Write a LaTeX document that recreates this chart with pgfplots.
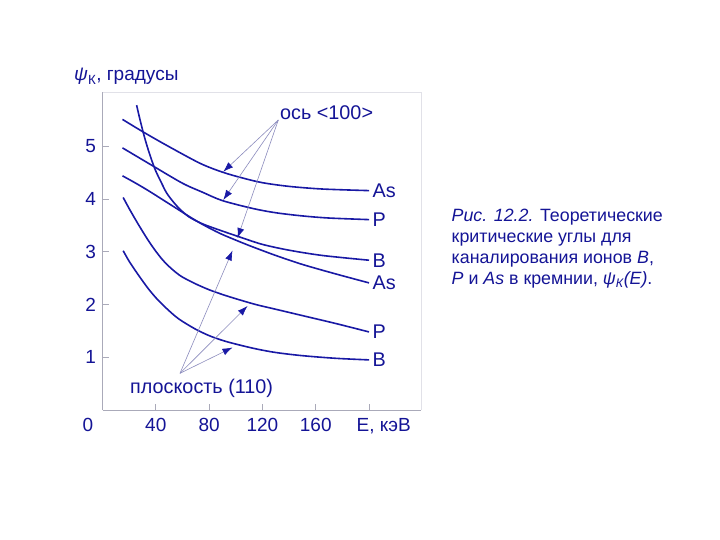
\documentclass[border=0pt]{standalone}
\usepackage{fontspec}
\setmainfont{Liberation Sans}
\usepackage{pgfplots}
\pgfplotsset{compat=1.18}
\usetikzlibrary{arrows.meta}
\definecolor{cblue}{RGB}{25,25,165}
\definecolor{tblue}{RGB}{20,20,150}
\definecolor{agray}{RGB}{140,140,190}
\definecolor{axgray}{RGB}{170,170,185}
\definecolor{frgray}{RGB}{225,225,232}
\newcommand{\lbl}{\fontsize{19bp}{22bp}\selectfont}
\newcommand{\alb}{\fontsize{19.8bp}{22bp}\selectfont}
\newcommand{\capfont}{\fontsize{17.8bp}{21bp}\selectfont}
\begin{document}
\begin{tikzpicture}[x=1bp,y=1bp]
\path[use as bounding box, fill=white] (0,0) rectangle (720,540);
\begin{axis}[
  at={(102.5bp,130bp)}, anchor=south west,
  scale only axis, width=318.5bp, height=318bp,
  xmin=0, xmax=239, ymin=0, ymax=6.03,
  axis x line*=bottom, axis y line*=left,
  axis line style={-, draw=axgray, line width=0.8bp},
  xtick={40,80,120,160,200}, xticklabels={40,80,120,160,{}},
  ytick={1,2,3,4,5}, yticklabels={1,2,3,4,5},
  tick align=inside, major tick length=6bp,
  tick style={draw=axgray, line width=0.8bp},
  xticklabel style={font=\lbl, text=tblue, anchor=base, yshift=-21.7bp},
  yticklabel style={font=\lbl, text=tblue, anchor=east, xshift=-3bp},
  /pgf/number format/assume math mode=true,
  clip=false,
]
\draw[frgray, line width=0.8bp] (rel axis cs:0,1) -- (rel axis cs:1,1) -- (rel axis cs:1,0);
% axis <100> As
\addplot[cblue, line width=1.6bp, smooth] coordinates {
 (15,5.51) (30,5.28) (48,5.02) (73,4.68) (90,4.51) (105,4.40) (120,4.31) (140,4.24) (165,4.19) (200,4.16)};
% axis <100> P
\addplot[cblue, line width=1.6bp, smooth] coordinates {
 (15,4.97) (37,4.64) (60,4.30) (75,4.13) (90,3.97) (113,3.82) (130,3.74) (150,3.68) (170,3.64) (200,3.61)};
% axis <100> B
\addplot[cblue, line width=1.6bp, smooth] coordinates {
 (25.6,5.78) (28,5.52) (31,5.22) (34,4.96) (37,4.73) (40,4.53) (44,4.32) (48,4.12) (53,3.95) (58,3.81) (65,3.66) (75,3.53) (88,3.41) (103,3.28) (120,3.14) (140,3.03) (165,2.93) (200,2.84)};
% plane (110) As
\addplot[cblue, line width=1.6bp, smooth] coordinates {
 (15,4.44) (25,4.30) (35,4.15) (45,3.99) (55,3.83) (65,3.67) (75,3.52) (88,3.35) (103,3.19) (113,3.09) (130,2.93) (150,2.76) (175,2.58) (200,2.41)};
% plane (110) P
\addplot[cblue, line width=1.6bp, smooth] coordinates {
 (15.5,4.03) (20,3.82) (25,3.60) (30,3.39) (35,3.19) (40,3.01) (45,2.85) (50,2.72) (55,2.61) (60,2.52) (70,2.39) (80,2.28) (90,2.19) (100,2.11) (115,2.00) (130,1.91) (150,1.79) (175,1.64) (200,1.48)};
% plane (110) B
\addplot[cblue, line width=1.6bp, smooth] coordinates {
 (15.5,3.02) (20,2.82) (25,2.63) (30,2.45) (35,2.28) (40,2.13) (45,2.00) (50,1.88) (55,1.77) (60,1.68) (70,1.53) (80,1.41) (90,1.32) (100,1.25) (115,1.16) (130,1.09) (150,1.03) (175,0.98) (200,0.95)};
\node[anchor=west, text=tblue, font=\alb] at (axis cs:200,4.16) {As};
\node[anchor=west, text=tblue, font=\alb] at (axis cs:200,3.61) {P};
\node[anchor=west, text=tblue, font=\alb] at (axis cs:200,2.84) {B};
\node[anchor=west, text=tblue, font=\alb] at (axis cs:200,2.41) {As};
\node[anchor=west, text=tblue, font=\alb] at (axis cs:200,1.48) {P};
\node[anchor=west, text=tblue, font=\alb] at (axis cs:200,0.95) {B};
\end{axis}
% origin and x-axis title
\node[anchor=base, text=tblue, font=\lbl, inner sep=0] at (88,108.3) {0};
\node[anchor=base west, text=tblue, font=\lbl, inner sep=0] at (356.5,108.3) {E, кэВ};
% y-axis title
\node[anchor=base west, text=tblue, font=\lbl, inner sep=0] at (74,459) {{\itshape ψ}\textsubscript{К}, градусы};
% annotations
\node[anchor=base west, text=tblue, font=\alb, inner sep=0] at (280,420) {ось <100>};
\node[anchor=base west, text=tblue, font=\alb, inner sep=0] at (130,146.7) {плоскость (110)};
\begin{scope}[agray, line width=0.6bp, -{Latex[cblue, length=10bp, width=7bp]}]
\draw (278.3,420) -- (223.3,368.3);
\draw (278.3,420) -- (223.3,340);
\draw (278.3,420) -- (237.5,302);
\draw (180,166.7) -- (232.5,289.5);
\draw (180,166.7) -- (247.5,234);
\draw (180,166.7) -- (232.5,192.5);
\end{scope}
% caption
\begin{scope}[every node/.style={anchor=base west, text=tblue, font=\capfont, inner sep=0}]
\node at (451.5,318) {\itshape Рис. 12.2.\upshape{} Теоретические};
\node at (451.5,297) {критические углы для};
\node at (451.5,276) {каналирования ионов \textit{B},};
\node at (451.5,255) {\textit{P} и \textit{As} в кремнии, \textit{ψ}\textsubscript{\itshape К}\textit{(E)}.};
\end{scope}
\end{tikzpicture}
\end{document}
